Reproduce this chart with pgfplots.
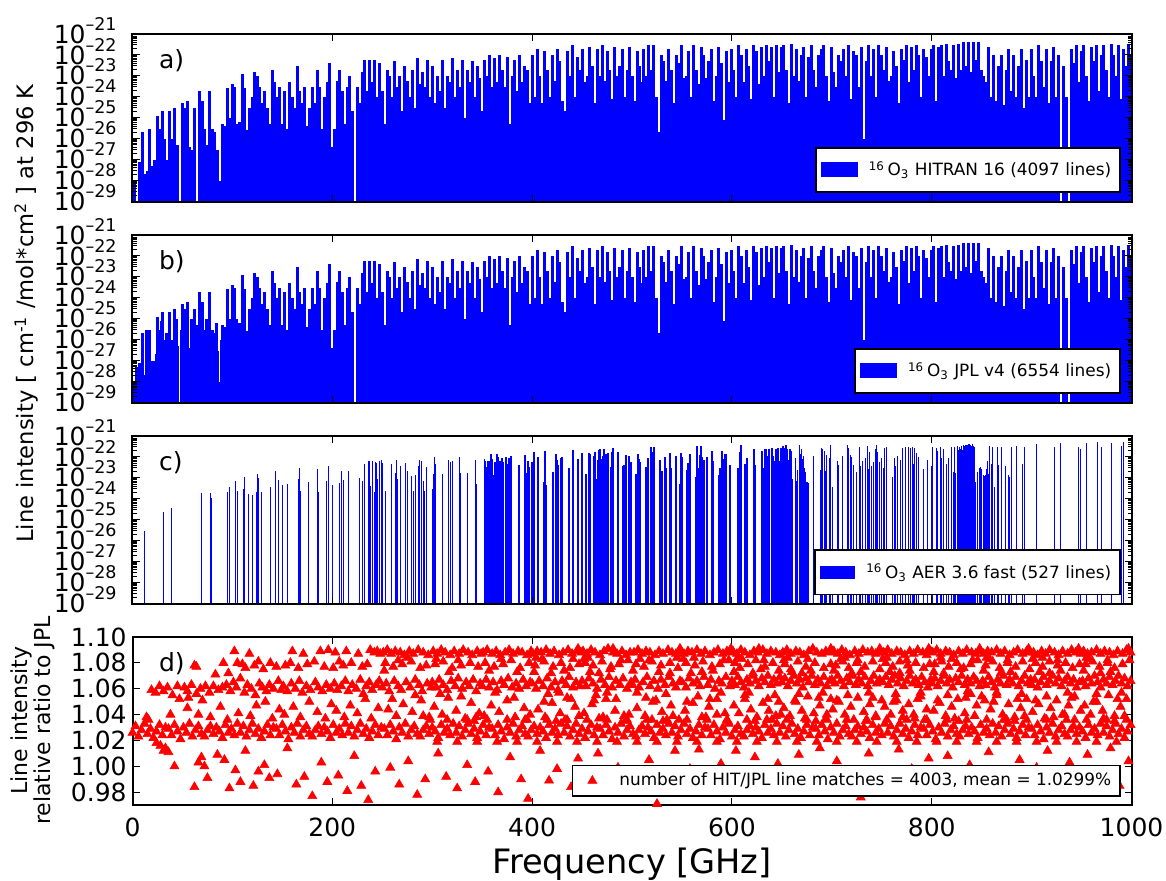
\documentclass[border=0pt]{standalone}
\usepackage{fontspec}
\setmainfont{DejaVu Sans}
\usepackage{pgfplots}
\usepackage{pgfplotstable}
\pgfplotsset{compat=1.18}

% 10^{-n} tick label; the exponent is smashed so the base is centred on its tick
\newcommand\tenexp[1]{10\smash{\raisebox{6.5pt}{\fontsize{8.75pt}{9pt}\selectfont\textendash#1}}}

% HITRAN 16 line intensities (one entry per ~2.5 GHz channel)
\pgfplotstableread{
x y
0 1e-28
2 1e-28
7 8e-28
10 2e-26
12 2e-28
15 3e-28
17 3e-26
20 5e-28
22 1e-27
25 1.2e-25
27 3e-26
30 2e-25
32 1e-26
35 1e-27
37 2e-25
40 1e-26
42 3e-25
45 5e-27
50 5e-25
52 3e-25
55 6e-25
57 4e-27
60 3e-27
62 3e-25
67 2e-24
70 6e-25
72 3e-26
75 5e-27
77 2e-24
80 3e-26
82 2e-26
85 3e-27
87 1e-28
90 5e-26
92 4e-26
95 2.5e-24
97 1e-25
100 4e-24
102 3e-24
105 5e-26
107 6e-26
110 1.2e-23
112 2.5e-24
115 2.5e-26
117 3e-25
120 1e-24
122 1.5e-23
125 1e-23
127 3e-24
130 5e-25
132 2e-24
135 3e-25
137 5e-26
140 2e-23
142 5e-24
145 1e-24
147 3e-24
150 5e-26
152 2e-24
155 3e-26
157 5e-24
160 1e-24
162 3e-25
165 3e-23
167 2e-24
170 5e-25
172 3e-24
175 4e-26
177 3e-25
180 3e-24
182 5e-25
185 2e-23
187 3e-24
190 3e-26
192 1e-24
195 5e-24
197 4e-23
200 4e-27
202 3e-26
205 6e-24
207 2e-23
210 2e-24
212 5e-26
215 3e-24
217 1e-23
220 2e-25
225 3e-24
227 5e-25
230 1.5e-23
232 6e-23
235 2e-24
237 6e-23
240 5e-24
242 6e-23
245 1e-24
247 4e-23
250 2e-24
252 5e-26
255 2e-23
257 1e-23
260 1e-24
262 5e-23
265 3e-24
267 1e-23
270 2e-25
272 3e-23
275 6e-24
277 1e-24
280 2e-23
282 3e-25
285 7e-23
287 4e-24
290 1.5e-23
292 3e-24
295 6e-23
297 1e-24
300 3e-23
302 5e-25
305 1e-23
307 2e-24
310 6e-23
312 3e-25
315 1e-23
317 5e-24
320 7e-23
322 1e-24
325 2e-23
327 3e-24
330 6e-23
332 1e-25
335 2e-23
337 5e-24
340 5e-23
342 1e-24
345 3e-23
347 8e-24
350 2e-25
352 6e-23
355 1e-23
357 1e-22
360 3e-24
362 7e-23
365 5e-24
367 1e-22
370 2e-23
372 3e-24
375 8e-23
377 5e-26
380 1e-23
382 6e-23
385 2e-24
387 1e-22
390 5e-24
392 3e-23
395 2e-23
397 5e-25
400 1e-22
402 1e-24
405 2e-22
407 1e-23
410 5e-25
412 1.5e-22
415 2e-23
417 1e-24
420 1e-22
422 6e-24
425 2e-22
427 5e-23
430 6e-25
432 2e-25
435 1.5e-22
437 1e-23
440 3e-22
442 1e-24
445 8e-23
447 2e-23
450 2e-22
452 5e-24
455 1e-23
457 2.5e-22
460 3e-23
462 5e-25
465 2e-22
467 1e-23
470 3e-22
472 6e-24
475 1.5e-22
477 2e-23
480 8e-25
482 2.5e-22
485 1e-23
487 3e-23
490 2e-22
492 1e-24
495 2e-23
497 2.5e-22
500 1e-23
502 6e-25
505 1.5e-22
507 3e-23
510 5e-24
512 2e-22
515 1e-23
517 3e-22
520 2e-23
522 3e-22
525 1e-24
527 2e-26
530 1e-22
532 5e-23
535 6e-24
537 2e-22
540 2e-23
542 5e-25
545 1e-22
547 4e-23
550 3e-22
552 8e-24
555 1e-23
557 1.5e-22
560 1e-24
562 3e-22
565 2e-23
567 4e-24
570 2.5e-22
572 1e-22
575 8e-24
577 5e-23
580 2e-22
582 6e-25
585 1e-23
587 2.5e-22
590 4e-23
592 8e-26
595 1.5e-22
597 5e-24
600 2e-22
602 2e-23
605 1e-24
607 3e-22
610 1e-22
612 5e-24
615 2e-22
617 3e-23
620 8e-25
622 3e-22
625 1.5e-22
627 4e-24
630 2.5e-22
632 1e-23
635 3e-22
637 5e-23
640 2.5e-22
642 1e-24
645 3e-22
647 1.5e-23
650 2.5e-22
652 3e-22
655 2e-23
657 5e-25
660 3.5e-22
662 1e-23
665 2e-22
667 6e-24
670 1e-22
672 2.5e-22
675 1e-24
677 8e-23
680 3e-22
682 2e-23
685 3e-24
687 1e-22
690 2e-22
692 3e-22
695 1e-23
697 6e-25
700 2.5e-22
702 1.5e-23
705 3e-24
707 1e-22
710 5e-23
712 2e-22
715 1e-23
717 3e-22
720 8e-25
722 1.5e-22
725 1e-22
727 3e-24
730 2.5e-22
732 1e-26
735 5e-23
737 3e-22
740 1e-23
742 2e-22
745 1e-24
747 3e-22
750 1e-22
752 2e-23
755 2.5e-22
757 6e-24
760 1e-23
762 1.5e-22
765 3e-23
767 5e-25
770 2e-22
772 6e-23
775 3e-22
777 5e-24
780 2.5e-22
782 2e-23
785 3e-22
787 1e-22
790 1e-24
792 2e-22
795 8e-23
797 1e-23
800 2e-22
802 3e-22
805 6e-25
807 2.5e-22
810 3e-22
812 1e-23
815 3.5e-22
817 5e-23
820 2e-23
822 3e-22
825 8e-24
827 3.5e-22
830 2e-23
832 4e-22
835 3e-23
837 4e-22
840 1.5e-23
842 4e-22
845 6e-23
847 4e-22
850 2e-23
852 1e-23
855 5e-24
857 2.5e-22
860 1e-24
862 1e-22
865 6e-25
867 3e-23
870 1e-22
872 4e-25
875 2e-23
877 2e-22
880 2e-24
882 1e-22
885 1e-24
887 3e-23
890 2e-22
892 3e-25
895 6e-23
897 1e-24
900 2e-22
902 1e-23
905 1e-24
907 3e-22
910 5e-23
912 3e-24
915 2e-22
917 5e-25
920 5e-23
922 2.5e-22
925 1e-24
927 1e-22
932 3e-23
935 1e-24
940 2e-22
942 4e-23
945 3e-22
947 5e-24
950 1.5e-22
952 3e-22
955 1e-23
957 6e-25
960 2.5e-22
962 5e-23
965 3e-22
967 2e-24
970 1e-22
972 3e-22
975 2e-23
977 1e-24
980 3.5e-22
982 1e-22
985 1e-23
987 3e-22
990 8e-25
992 2e-22
995 3e-23
997 3.5e-22
1000 1e-22
}\hitran

% additional weak lines present only in JPL v4
\pgfplotstableread{
x y
4 5e-28
9 2e-28
14 3e-26
19 1e-27
24 2e-27
29 8e-26
34 2e-26
39 5e-27
44 1e-25
49 3e-26
54 8e-26
59 1e-25
64 5e-26
69 2e-26
74 1e-25
79 3e-26
84 6e-26
89 1e-26
94 2e-26
99 3e-26
104 1e-25
109 5e-26
}\jplextra

% AER 3.6 fast line list
\pgfplotstableread{
x y
12 3e-26
31 2.4e-25
39 3.7e-25
69 1.9e-24
78 1.9e-24
79 1.1e-24
95 2.1e-24
97 3.7e-24
103 6.9e-24
105 2.4e-24
111 2.9e-24
112 1.1e-23
116 1.7e-24
120 1.5e-24
124 2.1e-24
125 1.5e-23
126 1e-23
129 2.1e-24
138 3.7e-24
143 2.1e-23
146 7.8e-24
150 4.6e-24
155 5.1e-24
166 8.9e-24
167 3e-23
168 2.4e-24
176 6.5e-24
185 2.7e-23
186 2.1e-24
194 7.1e-24
196 3.9e-23
200 4.6e-24
207 5.8e-24
209 2.1e-23
211 8e-24
216 2.1e-23
227 1e-23
230 7.1e-24
232 4.6e-23
236 6.5e-23
237 6.5e-23
238 4.1e-24
240 6.5e-23
242 2.1e-24
243 5.8e-23
244 5.1e-23
245 8.9e-24
247 6.5e-23
249 7.2e-23
250 5.1e-23
253 2.4e-24
259 4.6e-23
263 1.7e-23
264 7.2e-23
265 8.9e-24
268 3.7e-23
273 5.1e-23
275 2.1e-23
279 1.2e-23
281 2.4e-24
283 1.4e-23
286 3.7e-23
287 7.2e-23
289 6.5e-23
291 7.1e-24
292 2.4e-24
294 3.3e-23
300 2.9e-24
301 1.5e-23
302 1e-22
303 4.6e-23
310 1.5e-23
316 7.2e-23
318 5.8e-23
320 6.5e-23
327 1e-22
328 1.7e-23
335 1.7e-23
343 7.2e-23
344 5.1e-24
352 7.9e-23
353 6.5e-23
355 3.3e-23
356 6.5e-23
357 4.6e-24
358 6.5e-23
359 1.4e-22
360 7.9e-23
362 1.4e-23
363 5.8e-23
365 1.4e-22
366 1e-22
368 6.5e-23
369 1.5e-23
370 8.9e-23
371 5.8e-23
374 1e-22
375 4.6e-23
377 8.9e-23
378 1.7e-23
379 1.1e-22
387 4.2e-23
393 1.2e-22
395 1.7e-23
396 6.5e-23
397 3.3e-23
400 5.8e-23
402 1.7e-22
406 1e-22
412 6.5e-24
413 1.9e-22
414 4.6e-24
421 1.9e-23
424 1.4e-22
425 7.2e-23
426 4.2e-23
429 8.9e-23
430 1e-22
437 3e-23
441 2.1e-22
446 7.9e-23
450 1.5e-22
454 1.5e-23
457 1.5e-22
458 1.4e-22
462 1.1e-22
463 1.7e-22
464 8.9e-24
465 7.8e-24
466 7.2e-23
467 2.1e-22
468 2.4e-22
469 7.9e-23
470 3.3e-23
471 1.1e-22
472 2.4e-22
473 1.7e-23
474 1.4e-22
476 1.5e-22
479 3.3e-23
480 1.7e-22
481 2.7e-22
486 1.7e-22
491 3.7e-23
492 4.2e-23
494 1.2e-22
497 1.1e-22
499 5.8e-23
504 1.5e-23
506 1.4e-22
507 7.9e-23
508 5.8e-23
514 3.3e-23
515 5.8e-24
516 8.9e-23
519 3e-22
520 1.7e-22
522 3e-22
528 7.2e-23
530 2.1e-23
533 1e-22
534 3e-23
538 1.5e-22
539 3e-23
544 1.1e-22
548 5.1e-24
549 1.5e-22
550 1e-22
555 2.4e-23
556 5.1e-23
558 1.4e-22
564 1.1e-23
565 3.3e-22
566 3e-23
568 1.2e-22
569 3.3e-22
570 1e-22
571 3.7e-23
572 7.2e-23
575 1e-22
580 1.9e-22
581 6.5e-23
587 1.4e-23
588 3e-23
590 1.9e-22
591 7.9e-23
593 1.4e-22
594 1.4e-22
598 4.2e-23
606 3e-23
608 1.7e-22
609 3.7e-22
613 4.6e-23
614 2.1e-23
615 8.9e-23
622 2.4e-22
623 4.2e-23
630 1.9e-22
631 3e-23
633 2.4e-22
634 2.4e-22
636 1.1e-22
637 2.4e-22
640 2.7e-22
641 1.1e-22
643 6.5e-23
644 2.4e-22
646 2.7e-22
647 6.5e-23
649 2.7e-22
650 7.2e-23
651 3.3e-22
652 1.4e-22
653 2.7e-22
654 3.7e-22
655 2.4e-22
656 7.2e-23
657 2.4e-23
658 2.4e-22
660 1.9e-22
661 8.9e-24
664 8.9e-23
665 7.1e-24
666 2.4e-23
668 3.7e-22
669 1.4e-22
670 2.4e-22
671 7.9e-23
672 1.1e-22
673 3e-23
674 1.9e-23
675 6.5e-24
676 6.5e-24
677 5.8e-24
682 1.1e-22
689 2.4e-23
690 2.7e-22
691 2.4e-22
693 1.9e-22
694 2.1e-23
695 1.2e-22
698 8.9e-23
699 3.7e-22
701 3.7e-24
706 6.5e-23
707 4.2e-23
711 1.1e-22
716 3.7e-22
717 2.7e-22
719 1.2e-22
720 1e-22
722 4.2e-23
725 1.9e-23
728 3e-22
729 3.7e-23
731 6.5e-23
734 8.9e-23
736 3.3e-22
737 2.7e-23
738 1.7e-22
740 3.7e-23
742 5.8e-23
744 2.4e-22
745 3.7e-22
746 1.7e-22
748 5.8e-23
750 8.9e-23
752 3e-23
753 2.7e-22
755 3e-22
761 1.1e-23
763 8.9e-23
764 3.7e-23
766 1.1e-22
769 7.2e-23
771 2.7e-22
774 3e-22
777 3e-22
779 2.7e-22
781 3e-22
782 4.6e-23
783 2.7e-22
785 1.5e-22
787 1e-22
792 2.7e-23
796 7.2e-23
800 3.7e-23
801 3e-22
805 2.7e-22
806 1.9e-22
809 3e-22
810 8.9e-23
812 2.4e-22
815 4.6e-23
817 8.9e-23
820 3e-22
822 1.9e-23
823 3e-22
824 1.7e-23
826 3.3e-22
827 2.1e-22
828 3e-22
829 2.4e-22
830 3.3e-22
831 2.1e-22
832 3.7e-22
833 3.3e-22
834 3.7e-22
835 3.7e-22
836 3.7e-22
837 4.2e-22
838 4.2e-22
839 3.7e-22
840 3.3e-22
841 4.2e-22
842 3.3e-22
843 3e-22
844 6.5e-24
846 1.9e-23
848 3e-23
849 3.3e-23
850 2.7e-23
852 1.4e-23
853 1.2e-23
854 1.4e-23
855 2.7e-23
856 6.5e-23
857 1.5e-23
858 3.3e-22
860 4.6e-23
861 3e-22
863 3.7e-24
866 3e-22
867 4.2e-23
870 3e-22
874 3.7e-23
877 1.4e-23
878 1.1e-23
880 3e-22
885 3.3e-22
891 4.6e-23
893 3e-22
905 4.2e-22
923 3e-22
929 4.7e-22
947 3e-22
949 2.4e-22
955 4.7e-22
966 5.1e-22
970 3e-22
980 4.7e-22
990 3.3e-22
992 5.1e-22
}\aer

% HITRAN/JPL intensity ratio of matched lines
\pgfplotstableread{
x y
0 1.026
3 1.031
6 1.023
9 1.028
12 1.033
15 1.025
18 1.029
21 1.022
24 1.027
27 1.032
30 1.024
33 1.030
36 1.029
39 1.024
42 1.032
45 1.027
48 1.021
51 1.030
54 1.026
57 1.033
60 1.023
63 1.028
66 1.031
69 1.025
72 1.023
75 1.028
78 1.031
81 1.025
84 1.030
87 1.027
90 1.022
93 1.032
96 1.026
99 1.029
102 1.024
105 1.033
108 1.026
111 1.031
114 1.023
117 1.028
120 1.033
123 1.025
126 1.029
129 1.022
132 1.027
135 1.032
138 1.024
141 1.030
144 1.029
147 1.024
150 1.032
153 1.027
156 1.021
159 1.030
162 1.026
165 1.033
168 1.023
171 1.028
174 1.031
177 1.025
180 1.023
183 1.028
186 1.031
189 1.025
192 1.030
195 1.027
198 1.022
201 1.032
204 1.026
207 1.029
210 1.024
213 1.033
216 1.026
219 1.031
222 1.023
225 1.028
228 1.033
231 1.025
234 1.029
237 1.022
240 1.027
243 1.032
246 1.024
249 1.030
252 1.029
255 1.024
258 1.032
261 1.027
264 1.021
267 1.030
270 1.026
273 1.033
276 1.023
279 1.028
282 1.031
285 1.025
288 1.023
291 1.028
294 1.031
297 1.025
300 1.030
303 1.027
306 1.022
309 1.032
312 1.026
315 1.029
318 1.024
321 1.033
324 1.026
327 1.031
330 1.023
333 1.028
336 1.033
339 1.025
342 1.029
345 1.022
348 1.027
351 1.032
354 1.024
357 1.030
360 1.029
363 1.024
366 1.032
369 1.027
372 1.021
375 1.030
378 1.026
381 1.033
384 1.023
387 1.028
390 1.031
393 1.025
396 1.023
399 1.028
402 1.031
405 1.025
408 1.030
411 1.027
414 1.022
417 1.032
420 1.026
423 1.029
426 1.024
429 1.033
432 1.026
435 1.031
438 1.023
441 1.028
444 1.033
447 1.025
450 1.029
453 1.022
456 1.027
459 1.032
462 1.024
465 1.030
468 1.029
471 1.024
474 1.032
477 1.027
480 1.021
483 1.030
486 1.026
489 1.033
492 1.023
495 1.028
498 1.031
501 1.025
504 1.023
507 1.028
510 1.031
513 1.025
516 1.030
519 1.027
522 1.022
525 1.032
528 1.026
531 1.029
534 1.024
537 1.033
540 1.026
543 1.031
546 1.023
549 1.028
552 1.033
555 1.025
558 1.029
561 1.022
564 1.027
567 1.032
570 1.024
573 1.030
576 1.029
579 1.024
582 1.032
585 1.027
588 1.021
591 1.030
594 1.026
597 1.033
600 1.023
603 1.028
606 1.031
609 1.025
612 1.023
615 1.028
618 1.031
621 1.025
624 1.030
627 1.027
630 1.022
633 1.032
636 1.026
639 1.029
642 1.024
645 1.033
648 1.026
651 1.031
654 1.023
657 1.028
660 1.033
663 1.025
666 1.029
669 1.022
672 1.027
675 1.032
678 1.024
681 1.030
684 1.029
687 1.024
690 1.032
693 1.027
696 1.021
699 1.030
702 1.026
705 1.033
708 1.023
711 1.028
714 1.031
717 1.025
720 1.023
723 1.028
726 1.031
729 1.025
732 1.030
735 1.027
738 1.022
741 1.032
744 1.026
747 1.029
750 1.024
753 1.033
756 1.026
759 1.031
762 1.023
765 1.028
768 1.033
771 1.025
774 1.029
777 1.022
780 1.027
783 1.032
786 1.024
789 1.030
792 1.029
795 1.024
798 1.032
801 1.027
804 1.021
807 1.030
810 1.026
813 1.033
816 1.023
819 1.028
822 1.031
825 1.025
828 1.023
831 1.028
834 1.031
837 1.025
840 1.030
843 1.027
846 1.022
849 1.032
852 1.026
855 1.029
858 1.024
861 1.033
864 1.026
867 1.031
870 1.023
873 1.028
876 1.033
879 1.025
882 1.029
885 1.022
888 1.027
891 1.032
894 1.024
897 1.030
900 1.029
903 1.024
906 1.032
909 1.027
912 1.021
915 1.030
918 1.026
921 1.033
924 1.023
927 1.028
930 1.031
933 1.025
936 1.023
939 1.028
942 1.031
945 1.025
948 1.030
951 1.027
954 1.022
957 1.032
960 1.026
963 1.029
966 1.024
969 1.033
972 1.026
975 1.031
978 1.023
981 1.028
984 1.033
987 1.025
990 1.029
993 1.022
996 1.027
999 1.032
19 1.059
23 1.057
27 1.062
31 1.058
35 1.061
40 1.055
45 1.062
14 1.038
16 1.036
38 1.040
47 1.052
28 1.016
31 1.012
33 1.014
36 1.011
24 1.018
42 1.000
52 1.061
55 1.058
59 1.063
64 1.056
68 1.060
73 1.062
77 1.057
81 1.062
86 1.059
90 1.061
94 1.063
98 1.058
56 1.053
70 1.051
62 1.078
64 1.077
91 1.080
96 1.072
83 1.071
55 1.045
66 1.040
78 1.038
88 1.046
95 1.036
62 0.984
69 1.007
72 1.000
75 0.991
66 1.003
97 0.983
85 1.009
92 1.005
102 1.089
117 1.087
105 1.080
110 1.079
113 1.076
122 1.078
126 1.081
131 1.075
138 1.080
144 1.077
101 1.065
104 1.061
108 1.068
112 1.057
115 1.063
119 1.060
123 1.055
127 1.064
130 1.061
134 1.058
137 1.063
141 1.060
146 1.066
149 1.059
106 1.041
118 1.039
124 1.047
133 1.050
140 1.037
147 1.044
103 0.997
108 0.988
121 0.985
126 0.996
132 1.001
137 0.991
145 0.994
113 1.012
160 1.089
171 1.087
188 1.089
196 1.090
153 1.078
158 1.080
166 1.076
175 1.079
182 1.081
192 1.077
151 1.062
155 1.058
159 1.064
163 1.060
167 1.066
170 1.057
174 1.062
178 1.059
183 1.065
186 1.061
190 1.058
194 1.063
198 1.060
152 1.040
161 1.046
168 1.038
177 1.050
185 1.042
193 1.037
199 1.048
155 1.014
164 0.986
172 0.992
180 0.977
189 1.003
195 0.988
203 1.088
214 1.089
226 1.087
238 1.090
242 1.088
245 1.089
248 1.087
201 1.076
207 1.081
211 1.078
219 1.080
230 1.077
235 1.079
202 1.064
205 1.059
209 1.062
213 1.066
216 1.058
220 1.063
224 1.060
228 1.067
231 1.056
234 1.062
237 1.065
240 1.059
244 1.063
247 1.066
204 1.043
212 1.038
218 1.047
225 1.041
233 1.052
239 1.037
246 1.045
206 0.993
215 0.981
222 1.008
229 0.985
236 0.974
243 0.996
251 1.088
255 1.090
259 1.087
263 1.089
268 1.088
272 1.086
277 1.089
281 1.087
286 1.090
291 1.088
296 1.086
253 1.080
261 1.077
270 1.079
279 1.081
288 1.076
294 1.078
250 1.061
254 1.064
257 1.058
262 1.066
266 1.062
269 1.059
274 1.065
278 1.061
283 1.067
287 1.063
290 1.058
295 1.064
299 1.061
256 1.044
264 1.039
271 1.048
280 1.042
289 1.051
297 1.038
258 0.999
267 0.986
276 1.004
285 0.978
293 0.990
301 1.089
305 1.087
309 1.090
313 1.088
318 1.086
322 1.089
327 1.087
331 1.090
336 1.088
340 1.086
345 1.089
349 1.087
303 1.079
311 1.081
320 1.076
329 1.078
338 1.080
346 1.077
300 1.065
304 1.061
307 1.067
311 1.063
315 1.059
319 1.066
323 1.062
326 1.068
330 1.060
334 1.065
337 1.062
341 1.067
344 1.058
348 1.064
302 1.046
310 1.040
316 1.053
324 1.043
333 1.037
339 1.049
347 1.041
306 1.010
314 0.992
325 0.983
335 1.001
343 0.988
351 1.088
355 1.090
360 1.087
364 1.089
368 1.086
373 1.088
377 1.090
381 1.087
386 1.089
390 1.088
395 1.086
399 1.089
353 1.080
362 1.077
371 1.079
379 1.082
388 1.076
397 1.080
350 1.062
354 1.067
357 1.061
361 1.065
365 1.059
369 1.066
372 1.063
376 1.068
380 1.061
384 1.064
387 1.060
391 1.067
394 1.062
398 1.065
352 1.039
359 1.047
367 1.042
375 1.051
383 1.038
392 1.045
356 0.996
366 0.980
378 1.007
389 0.990
396 0.975
401 1.087
405 1.089
409 1.088
414 1.090
418 1.087
422 1.089
427 1.086
431 1.088
436 1.090
440 1.087
445 1.089
449 1.088
403 1.078
412 1.081
421 1.077
429 1.080
438 1.076
447 1.079
400 1.064
404 1.060
407 1.066
411 1.062
415 1.068
419 1.061
423 1.065
426 1.059
430 1.066
434 1.063
437 1.069
441 1.061
444 1.065
448 1.062
406 1.044
413 1.038
420 1.049
428 1.041
435 1.053
443 1.046
408 1.012
417 0.989
425 0.998
439 0.984
446 1.006
451 1.089
455 1.087
459 1.090
463 1.088
468 1.086
472 1.089
476 1.091
481 1.088
485 1.087
490 1.089
494 1.086
498 1.088
453 1.080
461 1.078
470 1.081
479 1.077
487 1.079
496 1.082
450 1.066
454 1.062
457 1.068
461 1.064
465 1.060
469 1.067
473 1.063
477 1.069
480 1.061
484 1.066
488 1.063
491 1.068
495 1.060
499 1.065
452 1.041
460 1.048
467 1.037
474 1.052
483 1.043
492 1.039
457 0.993
466 1.010
478 0.982
486 0.999
497 0.987
502 1.088
506 1.090
510 1.087
514 1.089
518 1.088
523 1.086
527 1.089
531 1.087
536 1.090
540 1.088
544 1.087
549 1.089
504 1.079
512 1.077
520 1.081
529 1.078
538 1.080
546 1.076
500 1.063
503 1.067
507 1.061
511 1.065
515 1.069
518 1.062
522 1.066
526 1.060
529 1.067
533 1.063
537 1.069
541 1.064
544 1.061
548 1.066
505 1.045
513 1.039
521 1.050
530 1.042
539 1.047
547 1.036
508 0.991
517 1.005
525 0.971
534 0.985
543 1.012
552 1.087
556 1.089
560 1.088
565 1.090
569 1.087
573 1.089
578 1.086
582 1.088
586 1.090
591 1.087
595 1.089
599 1.088
554 1.080
563 1.078
571 1.081
580 1.077
588 1.079
597 1.082
550 1.065
554 1.061
557 1.068
561 1.064
565 1.066
568 1.062
572 1.069
576 1.063
579 1.067
583 1.060
587 1.066
590 1.064
594 1.069
598 1.062
553 1.043
561 1.049
570 1.038
577 1.046
585 1.052
593 1.041
558 0.998
567 1.013
576 0.983
589 1.002
596 0.990
601 1.089
605 1.087
609 1.090
613 1.088
618 1.086
622 1.089
626 1.088
631 1.090
635 1.087
639 1.089
644 1.088
648 1.086
603 1.080
608 1.076
616 1.079
624 1.082
633 1.077
641 1.080
647 1.074
600 1.066
603 1.063
606 1.069
609 1.065
612 1.061
615 1.067
618 1.064
621 1.070
624 1.066
627 1.062
630 1.068
633 1.065
636 1.070
639 1.063
642 1.067
645 1.064
648 1.069
602 1.047
607 1.041
613 1.052
619 1.044
625 1.038
631 1.049
637 1.043
643 1.055
649 1.040
604 1.012
614 0.994
623 1.007
634 0.985
646 1.002
651 1.088
655 1.090
659 1.087
664 1.089
668 1.088
672 1.086
677 1.089
681 1.091
685 1.088
690 1.087
694 1.089
698 1.088
653 1.079
659 1.075
666 1.081
674 1.077
683 1.080
692 1.076
699 1.079
650 1.065
653 1.068
656 1.062
659 1.066
662 1.070
665 1.064
668 1.067
671 1.061
674 1.068
677 1.065
680 1.070
683 1.063
686 1.067
689 1.064
692 1.069
695 1.062
698 1.066
652 1.045
658 1.039
664 1.050
670 1.043
676 1.054
682 1.041
688 1.047
694 1.037
699 1.052
657 0.996
667 1.009
679 0.988
688 1.014
696 0.981
702 1.089
706 1.087
710 1.090
714 1.088
718 1.086
723 1.089
727 1.087
731 1.090
736 1.088
740 1.089
744 1.087
749 1.088
704 1.078
711 1.081
717 1.076
725 1.080
733 1.077
741 1.081
748 1.075
700 1.067
703 1.064
706 1.070
709 1.066
712 1.062
715 1.068
718 1.065
721 1.070
724 1.063
727 1.067
730 1.064
733 1.069
736 1.062
739 1.066
742 1.070
745 1.064
748 1.067
701 1.044
707 1.050
713 1.040
719 1.046
726 1.053
732 1.042
738 1.048
744 1.038
750 1.051
705 1.004
716 0.990
729 0.976
737 1.010
746 0.995
752 1.088
756 1.090
760 1.087
765 1.089
769 1.088
773 1.086
778 1.089
782 1.087
786 1.090
791 1.088
795 1.086
799 1.089
754 1.080
761 1.077
768 1.081
776 1.078
784 1.080
792 1.076
798 1.079
751 1.065
754 1.069
757 1.063
760 1.067
763 1.070
766 1.064
769 1.068
772 1.062
775 1.066
778 1.070
781 1.064
784 1.067
787 1.063
790 1.069
793 1.065
796 1.061
799 1.067
753 1.046
759 1.040
765 1.051
771 1.043
777 1.048
783 1.037
789 1.054
795 1.044
758 0.985
767 1.013
780 0.998
788 0.980
797 1.006
801 1.088
805 1.090
809 1.087
814 1.089
818 1.088
822 1.086
827 1.089
831 1.087
835 1.090
840 1.088
844 1.087
849 1.089
803 1.079
810 1.081
817 1.077
825 1.080
832 1.076
839 1.079
846 1.082
800 1.064
803 1.068
806 1.062
809 1.066
812 1.070
815 1.064
818 1.067
821 1.061
824 1.068
827 1.065
830 1.070
833 1.063
836 1.067
839 1.064
842 1.069
845 1.066
848 1.062
802 1.043
808 1.049
814 1.039
820 1.046
826 1.052
833 1.041
839 1.056
845 1.047
850 1.054
807 0.993
816 1.008
829 0.986
838 1.001
847 0.991
852 1.087
856 1.089
860 1.088
865 1.090
869 1.087
873 1.089
878 1.086
882 1.088
886 1.090
891 1.087
895 1.089
899 1.088
854 1.078
861 1.081
868 1.076
876 1.080
884 1.077
891 1.081
898 1.075
851 1.066
854 1.063
857 1.069
860 1.065
863 1.061
866 1.067
869 1.064
872 1.070
875 1.063
878 1.067
881 1.064
884 1.069
887 1.062
890 1.066
893 1.070
896 1.064
899 1.067
853 1.051
859 1.044
865 1.055
871 1.040
877 1.048
883 1.038
889 1.045
895 1.052
857 1.011
866 0.996
879 0.984
888 1.005
897 0.992
902 1.088
906 1.086
910 1.089
914 1.087
918 1.090
923 1.088
927 1.086
931 1.089
936 1.087
940 1.090
944 1.088
949 1.087
904 1.080
911 1.077
918 1.081
926 1.078
934 1.080
941 1.076
948 1.079
900 1.063
903 1.067
906 1.061
909 1.065
912 1.069
915 1.063
918 1.066
921 1.070
924 1.064
927 1.068
930 1.062
933 1.066
936 1.069
939 1.064
942 1.067
945 1.061
948 1.065
901 1.042
907 1.048
913 1.037
919 1.045
925 1.051
931 1.040
937 1.047
943 1.054
949 1.043
905 0.999
916 1.012
928 0.988
938 1.003
946 0.979
952 1.089
956 1.087
960 1.088
965 1.090
969 1.087
973 1.089
978 1.088
982 1.086
986 1.089
991 1.087
995 1.090
999 1.088
954 1.079
961 1.081
968 1.077
976 1.080
983 1.076
991 1.079
998 1.082
951 1.066
954 1.062
957 1.068
960 1.064
963 1.070
966 1.065
969 1.061
972 1.067
975 1.064
978 1.069
981 1.063
984 1.066
987 1.070
990 1.064
993 1.068
996 1.062
999 1.066
953 1.047
959 1.040
965 1.050
971 1.043
977 1.055
983 1.039
989 1.046
995 1.052
956 1.009
967 0.994
979 1.014
988 0.985
997 1.004
252 1.074
266 1.082
283 1.055
298 1.036
260 1.052
275 1.084
291 1.039
304 1.083
317 1.073
329 1.054
342 1.035
308 1.056
326 1.082
344 1.038
357 1.074
369 1.083
382 1.053
393 1.036
363 1.057
385 1.073
398 1.040
402 1.073
410 1.083
416 1.056
424 1.035
432 1.074
439 1.052
447 1.039
404 1.084
419 1.072
427 1.057
441 1.083
433 1.036
412 1.050
446 1.091
452 1.083
458 1.073
464 1.055
471 1.038
478 1.075
484 1.052
493 1.035
456 1.084
467 1.072
475 1.057
489 1.082
497 1.040
462 1.051
481 1.091
501 1.074
508 1.083
514 1.053
520 1.036
527 1.073
534 1.056
541 1.039
545 1.084
505 1.057
517 1.082
524 1.051
531 1.035
538 1.072
548 1.091
551 1.083
559 1.072
566 1.054
574 1.038
581 1.074
589 1.057
596 1.035
555 1.050
562 1.084
570 1.073
578 1.052
585 1.040
592 1.082
599 1.091
602 1.073
610 1.083
617 1.057
623 1.035
629 1.075
636 1.052
644 1.039
606 1.084
613 1.055
621 1.072
632 1.082
640 1.036
647 1.050
627 1.091
652 1.082
660 1.073
667 1.056
673 1.037
679 1.074
687 1.053
695 1.040
656 1.084
663 1.051
670 1.072
676 1.083
684 1.035
691 1.057
699 1.091
702 1.074
709 1.083
716 1.055
722 1.036
729 1.073
737 1.057
744 1.039
705 1.051
713 1.084
720 1.072
726 1.082
734 1.035
741 1.053
748 1.091
751 1.083
758 1.073
764 1.056
771 1.038
778 1.074
786 1.052
793 1.036
755 1.084
762 1.050
768 1.072
775 1.082
782 1.040
789 1.057
797 1.091
802 1.073
809 1.084
816 1.055
823 1.037
829 1.075
836 1.058
843 1.039
806 1.051
812 1.072
820 1.083
827 1.035
834 1.053
841 1.082
848 1.091
852 1.074
858 1.083
865 1.057
872 1.036
879 1.073
886 1.052
893 1.039
855 1.084
862 1.050
869 1.072
876 1.082
883 1.035
890 1.056
897 1.091
901 1.083
908 1.073
915 1.054
922 1.038
929 1.074
936 1.057
943 1.036
904 1.051
911 1.084
918 1.072
926 1.082
933 1.040
940 1.053
947 1.091
952 1.074
958 1.083
965 1.056
972 1.037
979 1.073
986 1.052
993 1.039
955 1.084
962 1.050
969 1.072
976 1.082
983 1.035
990 1.057
997 1.091
305 1.019
325 1.019
345 1.019
365 1.019
385 1.019
405 1.019
425 1.019
445 1.019
465 1.019
485 1.019
505 1.019
525 1.019
545 1.019
565 1.019
585 1.019
605 1.019
625 1.019
645 1.019
665 1.019
685 1.019
705 1.019
725 1.019
745 1.019
765 1.019
785 1.019
805 1.019
825 1.019
845 1.019
865 1.019
885 1.019
905 1.019
925 1.019
945 1.019
965 1.019
985 1.019
315 1.036
335 1.036
355 1.036
375 1.036
395 1.036
415 1.036
435 1.036
455 1.036
475 1.036
495 1.036
515 1.036
535 1.036
555 1.036
575 1.036
595 1.036
615 1.036
635 1.036
655 1.036
675 1.036
695 1.036
715 1.036
735 1.036
755 1.036
775 1.036
795 1.036
815 1.036
835 1.036
855 1.036
875 1.036
895 1.036
915 1.036
935 1.036
955 1.036
975 1.036
995 1.036
}\ratio

\tikzset{panellab/.style={anchor=base west, font=\fontsize{12.5pt}{15pt}\selectfont}}

\pgfplotsset{
  panel/.style={
    scale only axis, width=499.5pt, height=83.75pt,
    xmin=0, xmax=1000, xtick={0,200,400,600,800,1000},
    axis on top,
    axis line style={line width=1pt},
    every tick/.style={black, line width=0.5pt},
    major tick length=3.5pt, minor tick length=2pt,
    tick label style={font=\fontsize{12.5pt}{15pt}\selectfont},
    legend cell align=left,
    legend style={at={(0.9895,0.0507)}, anchor=south east, draw=black,
      line width=0.8pt, fill=white, font=\fontsize{8.45pt}{10pt}\selectfont,
      inner xsep=2.5pt, inner ysep=4.75pt, nodes={inner sep=2pt},
      /tikz/every odd column/.append style={column sep=3.5pt}},
  },
  logpanel/.style={
    panel, ymin=1e-29, ymax=1e-21,
    xticklabels={},
    ytick={1e-29,1e-28,1e-27,1e-26,1e-25,1e-24,1e-23,1e-22,1e-21},
    yticklabels={\tenexp{29},\tenexp{28},\tenexp{27},\tenexp{26},\tenexp{25},\tenexp{24},\tenexp{23},\tenexp{22},\tenexp{21}},
    minor ytick={2e-29,3e-29,4e-29,5e-29,6e-29,7e-29,8e-29,9e-29,
      2e-28,3e-28,4e-28,5e-28,6e-28,7e-28,8e-28,9e-28,
      2e-27,3e-27,4e-27,5e-27,6e-27,7e-27,8e-27,9e-27,
      2e-26,3e-26,4e-26,5e-26,6e-26,7e-26,8e-26,9e-26,
      2e-25,3e-25,4e-25,5e-25,6e-25,7e-25,8e-25,9e-25,
      2e-24,3e-24,4e-24,5e-24,6e-24,7e-24,8e-24,9e-24,
      2e-23,3e-23,4e-23,5e-23,6e-23,7e-23,8e-23,9e-23,
      2e-22,3e-22,4e-22,5e-22,6e-22,7e-22,8e-22,9e-22},
    yticklabel style={inner xsep=0pt, xshift=-7.75pt},
    legend image code/.code={\fill[blue] (0pt,-3pt) rectangle (17pt,3pt);},
  },
}

\begin{document}
\begin{tikzpicture}
% a) HITRAN
\begin{semilogyaxis}[logpanel, log origin y=infty, name=pa, at={(0pt,0pt)}, anchor=north west]
\addplot[ycomb, color=blue, line width=1.5pt] table {\hitran};
\addlegendentry{\textsuperscript{16}\,O\textsubscript{3} HITRAN 16 (4097 lines)}
\node[panellab] at (rel axis cs:0.0195,0.795) {a)};
\end{semilogyaxis}
% b) JPL
\begin{semilogyaxis}[logpanel, log origin y=infty, name=pb, at={(0pt,-100.5pt)}, anchor=north west]
\addplot[ycomb, color=blue, line width=1.5pt] table {\hitran};
\addlegendentry{\textsuperscript{16}\,O\textsubscript{3} JPL v4 (6554 lines)}
\addplot[ycomb, color=blue, line width=1.5pt, forget plot] table {\jplextra};
\node[panellab] at (rel axis cs:0.0195,0.795) {b)};
\end{semilogyaxis}
% c) AER
\begin{semilogyaxis}[logpanel, log origin y=infty, name=pc, at={(0pt,-201pt)}, anchor=north west, legend style={at={(0.9895,0.048)}}]
\addplot[ycomb, color=blue, line width=0.65pt] table {\aer};
\addlegendentry{\textsuperscript{16}\,O\textsubscript{3} AER 3.6 fast (527 lines)}
\node[panellab] at (rel axis cs:0.0195,0.795) {c)};
\end{semilogyaxis}
% d) ratio
\begin{axis}[panel, name=pd, at={(0pt,-301.5pt)}, anchor=north west,
  ymin=0.9705, ymax=1.10,
  ytick={0.98,1.00,1.02,1.04,1.06,1.08,1.10},
  yticklabels={0.98,1.00,1.02,1.04,1.06,1.08,1.10},
  xticklabels={0,200,400,600,800,1000},
  yticklabel style={inner xsep=0pt, xshift=-2.75pt},
  xticklabel style={inner ysep=0pt, yshift=-6.5pt},
  legend style={at={(0.9895,0.045)}, inner ysep=1.75pt},
  legend image code/.code={\path[draw=none, fill=none] (0pt,0pt) rectangle (15.5pt,0.1pt);
    \draw plot coordinates {(7.5pt,0pt)};}]
\addplot[only marks, color=red, line width=0.3pt, mark=triangle*, mark size=2.6pt,
  mark options={fill=red, draw=red}] table {\ratio};
\addlegendentry{number of HIT/JPL line matches = 4003, mean = 1.0299\%}
\node[panellab] at (rel axis cs:0.0195,0.795) {d)};
\end{axis}
% shared axis titles
\node[rotate=90, font=\fontsize{11.3pt}{13pt}\selectfont] at (-53pt,-139.75pt)
  {Line intensity [ cm\textsuperscript{-1} /mol*cm\textsuperscript{2} ] at 296 K};
\node[rotate=90, align=center, font=\fontsize{11pt}{11.5pt}\selectfont] at (-50pt,-343.25pt)
  {Line intensity\\relative ratio to JPL};
\node[anchor=base, font=\fontsize{16.8pt}{20pt}\selectfont] at (249.75pt,-419.5pt) {Frequency [GHz]};
\pgfresetboundingbox
\path[use as bounding box] (-66.25pt,17pt) rectangle (516.75pt,-423.5pt);
\end{tikzpicture}
\end{document}
